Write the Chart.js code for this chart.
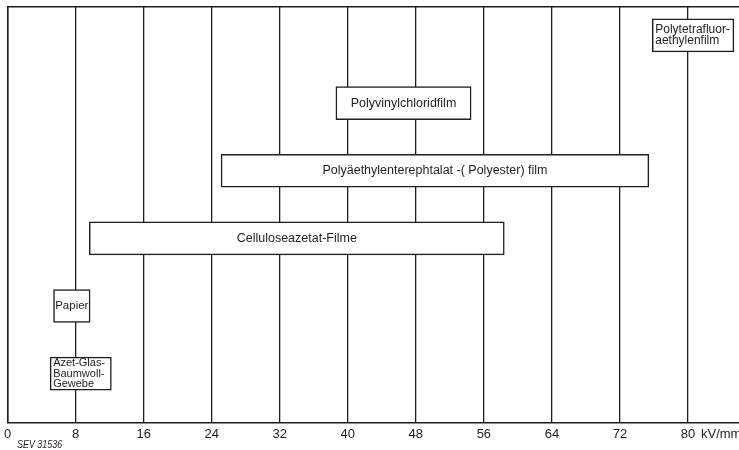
<!DOCTYPE html>
<html>
<head>
<meta charset="utf-8">
<script src="https://cdn.jsdelivr.net/npm/chart.js@4/dist/chart.umd.min.js"></script>
<style>
    html, body { margin: 0; padding: 0; background: #fff; }
    #wrap { width: 739px; height: 450px; }
</style>
</head>
<body>
<div id="wrap"><canvas id="chart"></canvas></div>
<script>
// Data (top row first)
const materials = [
    ['Polytetrafluor-', 'aethylenfilm'],
    ['Polyvinylchloridfilm'],
    ['Polyäethylenterephtalat -( Polyester) film'],
    ['Celluloseazetat-Filme'],
    ['Papier'],
    ['Azet-Glas-', 'Baumwoll-', 'Gewebe']
]
const rangeFrom = [75.8, 38.6, 25.1, 9.6, 5.4, 5.0]
const rangeTo = [85.4, 54.5, 75.4, 58.4, 9.7, 12.2]
const leftAligned = [true, false, false, false, false, true]
const xTicks = [0, 8, 16, 24, 32, 40, 48, 56, 64, 72, 80]
const unitLabel = 'kV/mm'
const sourceLabel = 'SEV 31536'

const ink = '#1e1e1e'
const font = 'Liberation Sans'

// rows from the top, half a row empty above the first one
let barData = []
for (let i = 0; i < materials.length; i++) {
    barData.push({ x: [rangeFrom[i], rangeTo[i]], y: i + 0.42 })
}

// Writes the material name inside each box
const boxLabels = {
    id: 'boxLabels',
    afterDatasetsDraw (chart) {
        const ctx = chart.ctx
        const meta = chart.getDatasetMeta(0)
        ctx.save()
        ctx.fillStyle = ink
        ctx.textBaseline = 'middle'
        meta.data.forEach((bar, i) => {
            const lines = materials[i]
            let size = 12.5
            let lh = 10.5
            if (i === 0) { size = 12; lh = 11.5 }
            if (i === 4) size = 11.5
            if (i === 5) size = 11
            ctx.font = `${size}px "${font}"`
            const left = Math.min(bar.x, bar.base)
            const mid = (bar.x + bar.base) / 2
            lines.forEach((txt, j) => {
                const y = bar.y + (j - (lines.length - 1) / 2) * lh
                if (leftAligned[i]) {
                    ctx.textAlign = 'left'
                    ctx.fillText(txt, left + 3, y)
                } else {
                    ctx.textAlign = 'center'
                    ctx.fillText(txt, mid, y)
                }
            })
        })
        ctx.restore()
    }
}

// Unit after the last tick, and the drawing number below
const extraText = {
    id: 'extraText',
    afterDraw (chart) {
        const ctx = chart.ctx
        const xs = chart.scales.x
        ctx.save()
        ctx.fillStyle = ink
        ctx.textBaseline = 'middle'
        ctx.textAlign = 'left'
        ctx.font = `13px "${font}"`
        ctx.fillText(unitLabel, xs.getPixelForValue(80) + 13, xs.top + 12)
        ctx.font = `italic 10.5px "${font}"`
        ctx.translate(17, 445)
        ctx.scale(0.85, 1)
        ctx.fillText(sourceLabel, 0, 0)
        ctx.restore()
    }
}

new Chart(document.getElementById('chart').getContext('2d'), {
    type: 'bar',
    data: {
        datasets: [{
            data: barData,
            backgroundColor: '#ffffff',
            borderColor: ink,
            borderWidth: 1.5,
            borderSkipped: false,
            barThickness: 33
        }]
    },
    options: {
        indexAxis: 'y',
        responsive: true,
        maintainAspectRatio: false,
        animation: false,
        layout: { padding: { left: 7, right: 0, top: 7, bottom: 4 } },
        plugins: {
            legend: { display: false },
            tooltip: { enabled: false }
        },
        scales: {
            x: {
                type: 'linear',
                min: 0,
                max: 86,
                afterBuildTicks: axis => { axis.ticks = xTicks.map(v => ({ value: v })) },
                grid: { color: ink, lineWidth: 1.3, drawTicks: false },
                border: { color: ink, width: 1.5 },
                ticks: {
                    color: ink,
                    padding: 4,
                    maxRotation: 0,
                    font: { family: font, size: 13 }
                }
            },
            x2: {
                type: 'linear',
                position: 'top',
                min: 0,
                max: 86,
                grid: { display: false, drawTicks: false },
                border: { color: ink, width: 1.5 },
                ticks: { display: false }
            },
            y: {
                type: 'linear',
                reverse: true,
                offset: false,
                min: 0,
                max: 6.14,
                grid: { display: false, drawTicks: false },
                border: { color: ink, width: 1.5 },
                ticks: { display: false }
            }
        }
    },
    plugins: [boxLabels, extraText]
})
</script>
</body>
</html>
